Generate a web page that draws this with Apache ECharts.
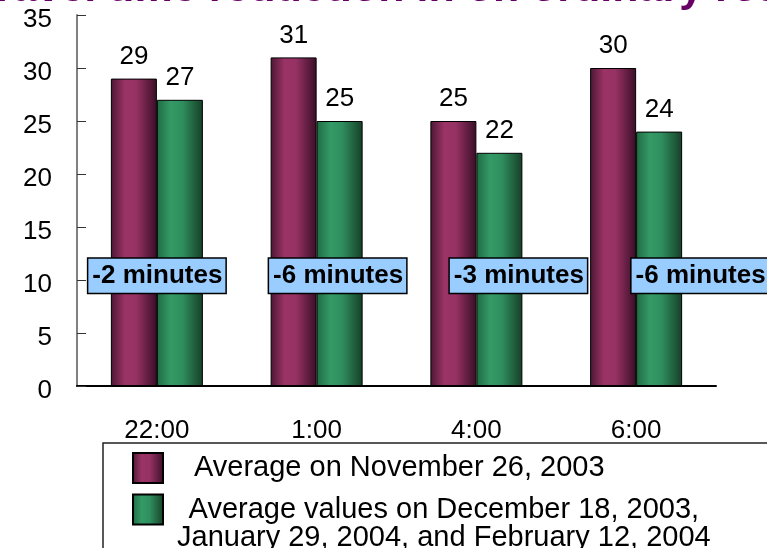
<!DOCTYPE html>
<html>
<head>
<meta charset="utf-8">
<style>
  html, body { margin: 0; padding: 0; background: #fff; }
  #chart { width: 767px; height: 548px; }
</style>
<script src="https://cdn.jsdelivr.net/npm/echarts@6/dist/echarts.min.js"></script>
</head>
<body>
<div id="chart"></div>
<script>
// Departure times
const categories = ['22:00', '1:00', '4:00', '6:00'];
// Average travel time (minutes)
const nov2003 = [29, 31, 25, 30];
const laterDays = [27, 25, 22, 24];
const seriesNames = [
  'Average on November 26, 2003',
  'Average values on December 18, 2003, January 29, 2004, and February 12, 2004'
];
const yTicks = { min: 0, max: 35, interval: 5 };

const FONT = '"Liberation Sans", Arial, sans-serif';

// Reduction between the two measurement periods, shown in the blue boxes
const savings = laterDays.map((v, i) => v - nov2003[i]);

function cylinder(stops) {
  return {
    type: 'linear', x: 0, y: 0, x2: 1, y2: 0,
    colorStops: stops.map(([offset, color]) => ({ offset, color }))
  };
}
const purpleFill = cylinder([[0, '#4a1733'], [0.3, '#9b3366'], [0.55, '#963264'], [1, '#3a0e26']]);
const greenFill = cylinder([[0, '#1f6b43'], [0.3, '#349a66'], [0.55, '#2f8f5e'], [1, '#163f27']]);

const boxOffsets = [0, 21, 42, 64];
const BOX_LEVEL = 10.4;

const chart = echarts.init(document.getElementById('chart'), null, { renderer: 'canvas' });

chart.setOption({
  animation: false,
  textStyle: { fontFamily: FONT },
  title: {
    text: 'Travel time reduction in on ordinary roads',
    left: -28,
    top: -32,
    padding: 0,
    textStyle: { fontFamily: FONT, fontSize: 43, fontWeight: 'bold', color: '#660066' }
  },
  grid: { left: 77, right: 51, top: 15, bottom: 162, outerBoundsMode: 'none', containLabel: false },
  legend: {
    orient: 'vertical',
    left: 103,
    top: 443,
    height: 400,
    padding: [9, 70, 5, 29],
    itemGap: -17,
    itemWidth: 30,
    itemHeight: 30,
    icon: 'rect',
    selectedMode: false,
    borderColor: '#222',
    borderWidth: 1.5,
    backgroundColor: '#fff',
    data: seriesNames,
    formatter: function (name) {
      if (name === seriesNames[0]) {
        return '{p|' + name + '}';
      }
      return '{e| }\n{a|Average values on December 18, 2003,}\n{b|January 29, 2004, and February 12, 2004}';
    },
    textStyle: {
      fontFamily: FONT,
      fontSize: 29,
      color: '#000',
      rich: {
        p: { fontSize: 29, lineHeight: 28, padding: [0, 0, 0, 26] },
        e: { fontSize: 29, lineHeight: 28 },
        a: { fontSize: 29, lineHeight: 28, align: 'center', padding: [0, 0, 0, 9] },
        b: { fontSize: 29, lineHeight: 28, align: 'center', padding: [0, 0, 0, 9] }
      }
    }
  },
  xAxis: {
    type: 'category',
    data: categories,
    boundaryGap: true,
    axisLine: { lineStyle: { color: '#000', width: 2 } },
    axisTick: { inside: true, length: 9, lineStyle: { color: '#333', width: 1 } },
    axisLabel: { fontFamily: FONT, fontSize: 26, color: '#000', margin: 32 }
  },
  yAxis: {
    type: 'value',
    min: yTicks.min,
    max: yTicks.max,
    interval: yTicks.interval,
    splitLine: { show: false },
    axisLine: { show: true, lineStyle: { color: '#808080', width: 2 } },
    axisTick: { show: true, inside: true, length: 9, lineStyle: { color: '#333', width: 1 } },
    axisLabel: {
      fontFamily: FONT, fontSize: 26, color: '#000', margin: 25,
      formatter: '{v|{value}}',
      rich: { v: { fontFamily: FONT, fontSize: 26, color: '#000', lineHeight: 26, padding: [10, 0, 0, 0] } }
    }
  },
  series: [
    {
      name: seriesNames[0],
      type: 'bar',
      data: nov2003,
      barWidth: 46,
      barGap: '0%',
      itemStyle: { color: purpleFill, borderColor: '#000', borderWidth: 1 },
      label: { show: true, position: 'top', distance: 9, fontFamily: FONT, fontSize: 26, color: '#000' }
    },
    {
      name: seriesNames[1],
      type: 'bar',
      data: laterDays,
      barWidth: 46,
      barGap: '0%',
      itemStyle: { color: greenFill, borderColor: '#000', borderWidth: 1 },
      label: { show: true, position: 'top', distance: 9, fontFamily: FONT, fontSize: 26, color: '#000' }
    },
    {
      type: 'scatter',
      symbolSize: 0,
      z: 10,
      silent: true,
      itemStyle: { opacity: 1 },
      data: categories.map((c, i) => ({
        value: [c, BOX_LEVEL],
        label: { offset: [boxOffsets[i], 0] }
      })),
      label: {
        show: true,
        position: 'inside',
        formatter: p => savings[p.dataIndex] + ' minutes',
        fontFamily: FONT,
        fontSize: 26,
        fontWeight: 'bold',
        color: '#000',
        opacity: 1,
        lineHeight: 30,
        backgroundColor: '#99ccff',
        borderColor: '#000',
        borderWidth: 1.5,
        padding: [2, 3, 2, 4]
      }
    }
  ]
});
</script>
</body>
</html>
